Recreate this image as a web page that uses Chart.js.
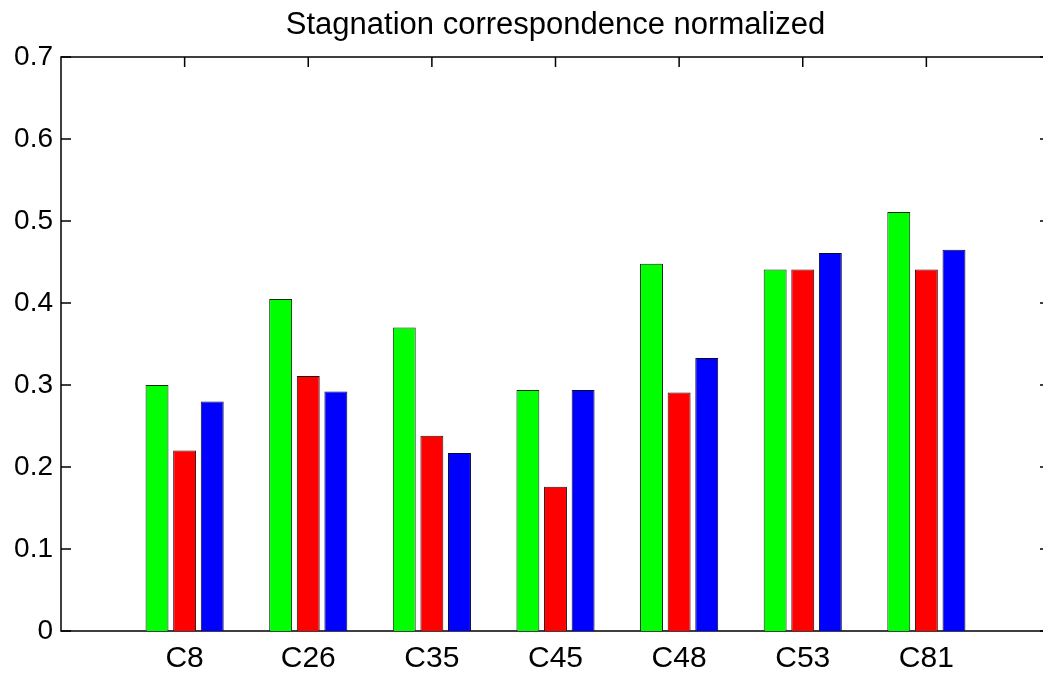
<!DOCTYPE html>
<html>
<head>
<meta charset="utf-8">
<script src="https://cdn.jsdelivr.net/npm/chart.js@4.4.1/dist/chart.umd.min.js"></script>
<style>
  html, body { margin: 0; padding: 0; background: #fff; overflow: hidden; }
  #wrap { width: 1060px; height: 673px; position: relative; }
</style>
</head>
<body>
<div id="wrap"><canvas id="c"></canvas></div>
<script>
const categories = ['', 'C8', 'C26', 'C35', 'C45', 'C48', 'C53', 'C81', ''];
const greenValues = [null, 0.300, 0.405, 0.370, 0.294, 0.448, 0.441, 0.511, null];
const redValues   = [null, 0.220, 0.311, 0.238, 0.176, 0.291, 0.441, 0.441, null];
const blueValues  = [null, 0.280, 0.292, 0.217, 0.294, 0.333, 0.461, 0.465, null];
const yTickLabels = ['0', '0.1', '0.2', '0.3', '0.4', '0.5', '0.6', '0.7'];
const titleText = 'Stagnation correspondence normalized';

const FONT = "'Liberation Sans', Arial, Helvetica, sans-serif";

const matlabAxes = {
  id: 'matlabAxes',
  beforeDatasetsDraw(chart) {
    const ctx = chart.ctx;
    const a = chart.chartArea;
    const xs = chart.scales.x, ys = chart.scales.y;
    const tl = 10;
    ctx.save();
    ctx.strokeStyle = '#000';
    ctx.lineWidth = 1.5;
    ctx.beginPath();
    ctx.rect(a.left, a.top, a.right - a.left, a.bottom - a.top);
    ctx.stroke();
    ctx.beginPath();
    ys.ticks.forEach(t => {
      const y = ys.getPixelForValue(t.value);
      ctx.moveTo(a.left, y); ctx.lineTo(a.left + tl, y);
      ctx.moveTo(a.right, y); ctx.lineTo(a.right - tl, y);
    });
    for (let i = 1; i < categories.length - 1; i++) {
      const x = xs.getPixelForValue(i);
      ctx.moveTo(x, a.top); ctx.lineTo(x, a.top + tl);
      ctx.moveTo(x, a.bottom); ctx.lineTo(x, a.bottom - tl);
    }
    ctx.stroke();
    ctx.restore();
  }
};

new Chart(document.getElementById('c'), {
  type: 'bar',
  data: {
    labels: categories,
    datasets: [
      { data: greenValues, backgroundColor: '#00ff00', borderColor: '#0a2a0a', borderWidth: 1 },
      { data: redValues,   backgroundColor: '#ff0000', borderColor: '#2a0a0a', borderWidth: 1 },
      { data: blueValues,  backgroundColor: '#0000ff', borderColor: '#0a0a2a', borderWidth: 1 }
    ]
  },
  options: {
    responsive: true,
    maintainAspectRatio: false,
    animation: false,
    categoryPercentage: 0.67,
    barPercentage: 0.83,
    layout: { padding: { top: 0, right: 8, left: 0, bottom: 0 } },
    plugins: {
      legend: { display: false },
      tooltip: { enabled: false },
      title: {
        display: true,
        fullSize: false,
        text: titleText,
        color: '#000',
        font: { family: FONT, size: 31, weight: 'normal' },
        padding: { top: 6.5, bottom: 13.3 }
      }
    },
    scales: {
      x: {
        offset: false,
        grid: { display: false, offset: false, drawTicks: false },
        border: { display: false },
        ticks: {
          autoSkip: false, maxRotation: 0, minRotation: 0,
          color: '#000', padding: 10,
          font: { family: FONT, size: 30 }
        },
        afterFit(s) { s.height = 42; }
      },
      y: {
        min: 0, max: 0.7,
        grid: { display: false, drawTicks: false },
        border: { display: false },
        ticks: {
          stepSize: 0.1,
          color: '#000', padding: 8,
          font: { family: FONT, size: 28 },
          callback: (v, i) => yTickLabels[i]
        },
        afterFit(s) { s.width = 61; }
      }
    }
  },
  plugins: [matlabAxes]
});
</script>
</body>
</html>
